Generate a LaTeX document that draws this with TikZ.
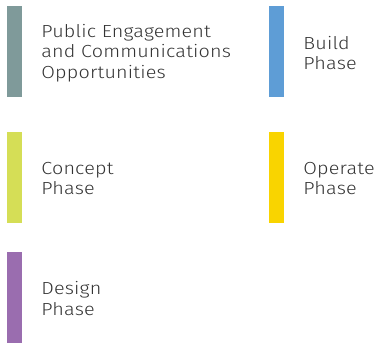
\documentclass[tikz,border=0pt]{standalone}
\usepackage{fontspec}
\setmainfont{Fira Sans Light}[BoldFont=Fira Sans, FakeStretch=1.13, LetterSpace=1]
\usetikzlibrary{positioning}
\definecolor{engage}{HTML}{7F9A9A}
\definecolor{concept}{HTML}{D5DE56}
\definecolor{design}{HTML}{9A6DAF}
\definecolor{build}{HTML}{5E9DD6}
\definecolor{operate}{HTML}{F9D400}
\definecolor{labeltext}{HTML}{333333}
\tikzset{
  phasebar/.style={fill=#1, draw=none, minimum width=15pt, minimum height=91pt, inner sep=0pt},
  phaselabel/.style={anchor=west, align=left, text=labeltext, inner sep=0pt, yshift=-1.5pt,
    font=\fontsize{17.5pt}{20.5pt}\selectfont}
}
\begin{document}
\begin{tikzpicture}[x=1pt, y=1pt]
		%%%%% START %%%%%
		\useasboundingbox (0, 0) rectangle (380, -343);
		
		\node[phasebar=engage] (engbar) at (14.5, -51.5) {};
		\node[phasebar=concept] (conbar) at (14.5, -177) {};
		\node[phasebar=design] (desbar) at (14.5, -297) {};
		\node[phasebar=build] (bldbar) at (276.5, -51.5) {};
		\node[phasebar=operate] (opbar) at (276.5, -177) {};
		
		\node[phaselabel, right=19pt of engbar] (englabel) {Public Engagement\\and Communications\\Opportunities};
		\node[phaselabel, right=19pt of conbar] (conlabel) {Concept\\Phase};
		\node[phaselabel, right=19pt of desbar] (deslabel) {Design\\Phase};
		\node[phaselabel, right=19pt of bldbar] (bldlabel) {Build\\Phase};
		\node[phaselabel, right=19pt of opbar] (oplabel) {Operate\\Phase};
		
		%%%%% END %%%%%
	\end{tikzpicture}
\end{document}
